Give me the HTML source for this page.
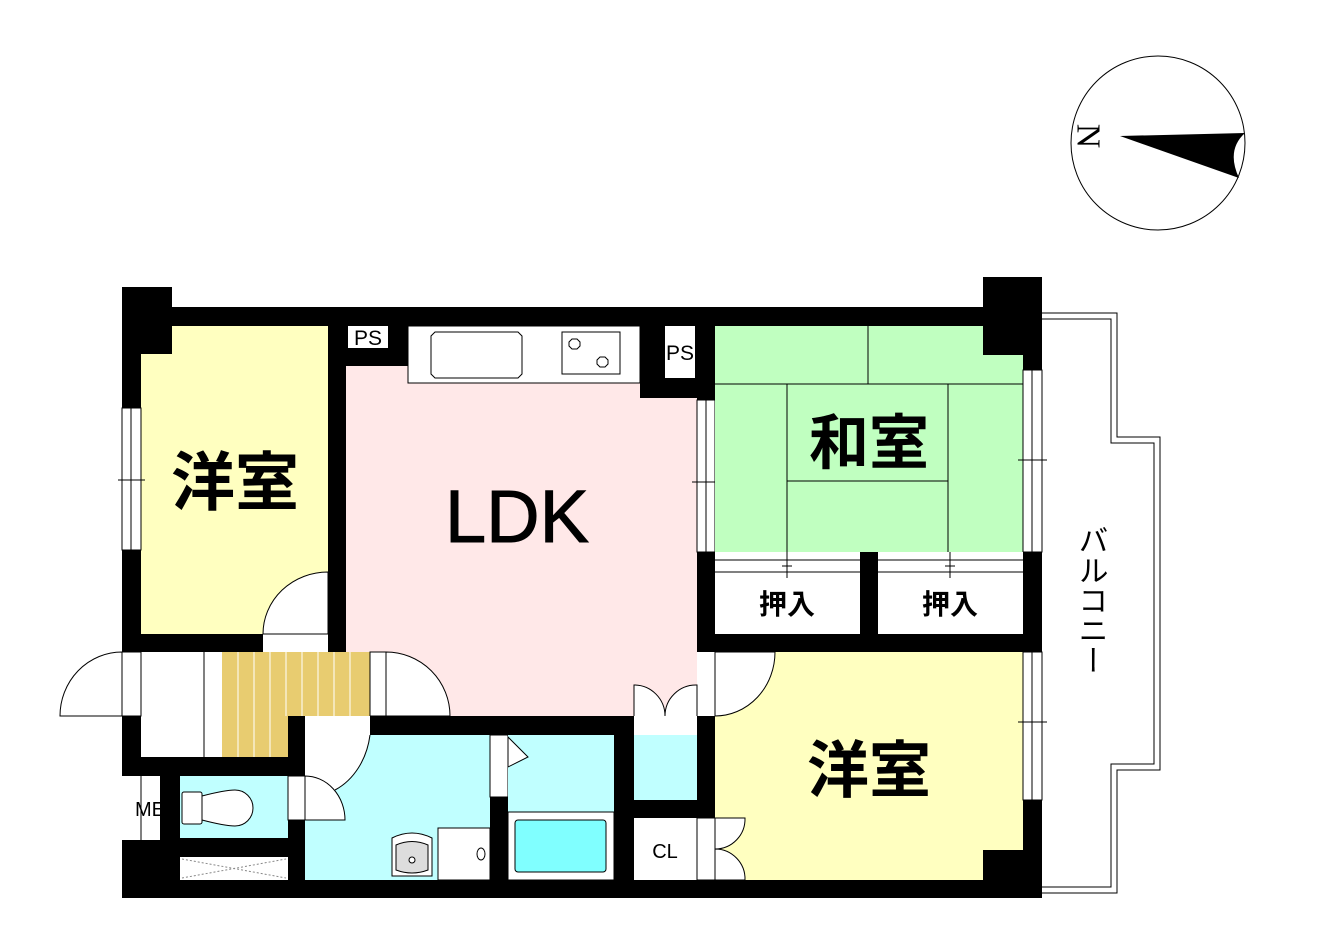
<!DOCTYPE html>
<html><head><meta charset="utf-8"><style>
html,body{margin:0;padding:0;background:#fff;}
svg{display:block;}
text{font-family:"Liberation Sans","Noto Sans CJK JP",sans-serif;}
</style></head><body>
<svg width="1317" height="933" viewBox="0 0 1317 933" xmlns="http://www.w3.org/2000/svg">
<circle cx="1158" cy="143" r="87" fill="#fff" stroke="#000" stroke-width="1"/>
<path d="M1120,136 L1245,133 Q1226,150 1239,178 Z" fill="#000"/>
<text x="1088" y="136" font-size="34" text-anchor="middle" dominant-baseline="central" transform="rotate(90 1088 136)" style="font-family:'Liberation Serif',serif">N</text>

<path d="M1042,313 L1117,313 L1117,437 L1160,437 L1160,770 L1117,770 L1117,893 L1042,893" fill="none" stroke="#000" stroke-width="1"/>
<path d="M1042,319 L1111,319 L1111,443 L1154,443 L1154,764 L1111,764 L1111,887 L1042,887" fill="none" stroke="#000" stroke-width="1"/>
<text x="1090" y="600" font-size="30" text-anchor="middle" style="writing-mode:vertical-rl" dominant-baseline="central">バルコニー</text>

<rect x="122" y="307" width="920" height="591" fill="#000"/>
<rect x="122" y="287" width="50" height="67" fill="#000"/>
<rect x="983" y="277" width="59" height="78" fill="#000"/>

<path d="M172,326 H328 V634 H141 V354 H172 Z" fill="#ffffc0"/>
<rect x="122" y="408" width="19" height="142" fill="#fff" stroke="#000" stroke-width="1"/>
<line x1="131" y1="408" x2="131" y2="550" stroke="#000"/>
<line x1="118" y1="480" x2="145" y2="480" stroke="#000"/>

<path d="M346,366 H408 V383 H640 V398 H697 V716 H346 Z" fill="#ffe8e8"/>
<rect x="408" y="326" width="232" height="57" fill="#fff" stroke="#000"/>
<path d="M435,332 H518 L522,336 V374 L518,378 H435 L431,374 V336 Z" fill="#fff" stroke="#000"/>
<rect x="562" y="332" width="58" height="42" fill="#fff" stroke="#000"/>
<path d="M569,342 l3,-3 h5 l3,3 v4 l-3,3 h-5 l-3,-3 z" fill="#fff" stroke="#000"/>
<path d="M597,360 l3,-3 h5 l3,3 v4 l-3,3 h-5 l-3,-3 z" fill="#fff" stroke="#000"/>
<rect x="348" y="326" width="40" height="22" fill="#fff"/>
<text x="368" y="345" font-size="21" text-anchor="middle">PS</text>
<rect x="665" y="326" width="30" height="52" fill="#fff"/>
<text x="680" y="360" font-size="21" text-anchor="middle">PS</text>

<rect x="697" y="400" width="18" height="152" fill="#fff" stroke="#000"/>
<line x1="706" y1="400" x2="706" y2="552" stroke="#000"/>
<line x1="692" y1="482" x2="720" y2="482" stroke="#000"/>

<path d="M715,326 H983 V355 H1023 V552 H715 Z" fill="#c0ffc0"/>
<g stroke="#000" stroke-width="1">
<line x1="715" y1="384" x2="1023" y2="384"/>
<line x1="868" y1="326" x2="868" y2="384"/>
<line x1="787" y1="384" x2="787" y2="578"/>
<line x1="948" y1="384" x2="948" y2="578"/>
<line x1="787" y1="481" x2="948" y2="481"/>
</g>
<rect x="1023" y="370" width="19" height="182" fill="#fff" stroke="#000"/>
<line x1="1032" y1="370" x2="1032" y2="552" stroke="#000"/>
<line x1="1018" y1="460" x2="1047" y2="460" stroke="#000"/>

<rect x="715" y="552" width="145" height="82" fill="#fff"/>
<rect x="878" y="552" width="145" height="82" fill="#fff"/>
<g stroke="#000" stroke-width="1">
<line x1="715" y1="560" x2="860" y2="560"/><line x1="715" y1="572" x2="860" y2="572"/>
<line x1="878" y1="560" x2="1023" y2="560"/><line x1="878" y1="572" x2="1023" y2="572"/>
<line x1="787" y1="552" x2="787" y2="578"/><line x1="950" y1="552" x2="950" y2="578"/>
<line x1="782" y1="566" x2="792" y2="566"/><line x1="945" y1="566" x2="955" y2="566"/>
</g>
<text x="787" y="614" font-size="28" text-anchor="middle" font-weight="bold">押入</text>
<text x="950" y="614" font-size="28" text-anchor="middle" font-weight="bold">押入</text>

<path d="M715,652 H1023 V850 H983 V880 H715 Z" fill="#ffffc0"/>
<rect x="1023" y="652" width="19" height="148" fill="#fff" stroke="#000"/>
<line x1="1032" y1="652" x2="1032" y2="800" stroke="#000"/>
<line x1="1018" y1="722" x2="1047" y2="722" stroke="#000"/>
<rect x="697" y="652" width="18" height="64" fill="#fff"/>
<path d="M715,652 H775 A60,64 0 0 1 715,716 Z" fill="#fff" stroke="#000"/>
<rect x="634" y="716" width="63" height="19" fill="#fff"/>
<path d="M634,716 V685 A31,31 0 0 1 665,716 M697,716 V685 A31,31 0 0 0 665,716" fill="#fff" stroke="#000"/>
<rect x="634" y="735" width="63" height="65" fill="#c0ffff"/>
<rect x="634" y="818" width="63" height="62" fill="#fff"/>
<text x="665" y="858" font-size="20" text-anchor="middle">CL</text>
<rect x="697" y="818" width="18" height="62" fill="#fff" stroke="#000"/>
<path d="M715,818 H745 A30,30 0 0 1 715,849 A30,30 0 0 1 745,880 H715 Z" fill="#fff" stroke="#000"/>

<rect x="141" y="652" width="81" height="105" fill="#fff"/>
<line x1="204" y1="652" x2="204" y2="757" stroke="#000"/>
<line x1="141" y1="652" x2="141" y2="716" stroke="#000"/>
<rect x="122" y="652" width="19" height="64" fill="#fff" stroke="#000"/>
<path d="M122,652 A62,64 0 0 0 60,716 H122 Z" fill="#fff" stroke="#000"/>
<path d="M222,652 H370 V716 H288 V757 H222 Z" fill="#e8cc70"/>
<g stroke="#fff" stroke-width="1">
<line x1="238" y1="652" x2="238" y2="757"/><line x1="254" y1="652" x2="254" y2="757"/><line x1="270" y1="652" x2="270" y2="757"/>
<line x1="286" y1="652" x2="286" y2="716"/><line x1="302" y1="652" x2="302" y2="716"/><line x1="318" y1="652" x2="318" y2="716"/>
<line x1="334" y1="652" x2="334" y2="716"/><line x1="350" y1="652" x2="350" y2="716"/>
</g>
<rect x="263" y="634" width="65" height="18" fill="#fff"/>
<path d="M263,634 A65,62 0 0 1 328,572 V634 Z" fill="#fff" stroke="#000"/>
<rect x="370" y="652" width="16" height="64" fill="#fff" stroke="#000"/>
<path d="M386,652 A64,64 0 0 1 450,716 H386 Z" fill="#fff" stroke="#000"/>

<rect x="122" y="776" width="38" height="64" fill="#fff"/>
<line x1="141" y1="776" x2="141" y2="840" stroke="#000"/>
<text x="150" y="816" font-size="20" text-anchor="middle">ME</text>
<rect x="180" y="776" width="108" height="62" fill="#c0ffff"/>
<rect x="182" y="792" width="20" height="32" rx="2" fill="#fff" stroke="#000"/>
<path d="M202,796 Q225,790 235,790 A18,18 0 0 1 235,826 Q225,826 202,820 Z" fill="#fff" stroke="#000"/>
<rect x="288" y="776" width="17" height="44" fill="#fff" stroke="#000"/>
<rect x="180" y="857" width="108" height="23" fill="#fff"/>
<path d="M182,859 L286,878 M182,878 L286,859" stroke="#888" stroke-dasharray="2,2"/>

<rect x="305" y="735" width="185" height="145" fill="#c0ffff"/>
<rect x="305" y="716" width="65" height="19" fill="#fff"/>
<path d="M305,735 H370 A60,72 0 0 1 335,790 L305,790 Z" fill="#fff"/>
<path d="M370,735 A60,72 0 0 1 335,790" fill="none" stroke="#000"/>
<path d="M305,776 A40,44 0 0 1 345,820 H305 Z" fill="#fff" stroke="#000"/>
<path d="M392,838 Q412,828 432,838 V876 H392 Z" fill="#fff" stroke="#000"/>
<path d="M396,845 Q412,838 428,845 V870 Q412,876 396,870 Z" fill="#ddd" stroke="#000"/>
<circle cx="412" cy="860" r="3" fill="#fff" stroke="#000"/>
<rect x="438" y="828" width="52" height="52" fill="#fff" stroke="#000"/>
<ellipse cx="481" cy="854" rx="4" ry="6" fill="#fff" stroke="#000"/>
<rect x="490" y="735" width="18" height="62" fill="#fff" stroke="#000"/>
<rect x="508" y="735" width="106" height="77" fill="#c0ffff"/>
<path d="M508,737 L528,757 L508,767 Z" fill="#fff" stroke="#000"/>
<rect x="508" y="812" width="106" height="68" fill="#fff" stroke="#000"/>
<rect x="515" y="820" width="91" height="52" rx="3" fill="#80ffff" stroke="#000"/>

<text x="235" y="505" font-size="64" text-anchor="middle" font-weight="bold">洋室</text>
<text x="517" y="542" font-size="74" text-anchor="middle" stroke="#000" stroke-width="1">LDK</text>
<text x="869" y="464" font-size="60" text-anchor="middle" font-weight="bold">和室</text>
<text x="869" y="792" font-size="62" text-anchor="middle" font-weight="bold">洋室</text>
</svg>
</body></html>
